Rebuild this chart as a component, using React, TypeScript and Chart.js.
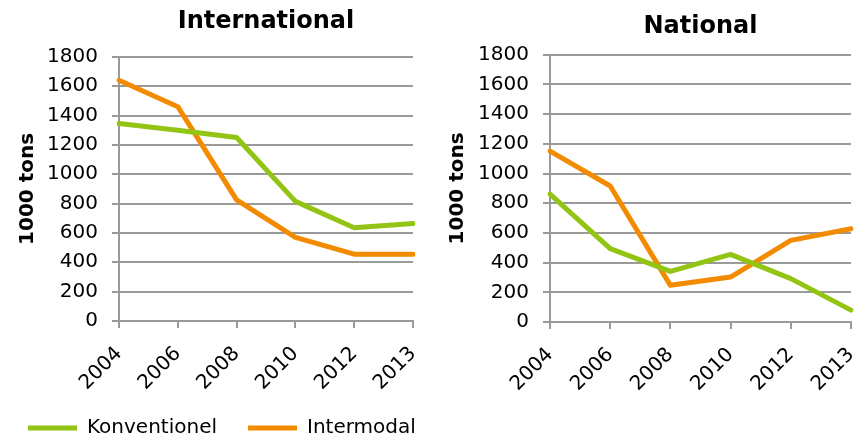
import React, { useEffect, useRef } from 'react';
import { Chart, registerables } from 'chart.js';

Chart.register(...registerables);

const years = ['2004', '2006', '2008', '2010', '2012', '2013'];
const intlKonventionel = [1345, 1300, 1250, 815, 635, 665];
const intlIntermodal = [1640, 1460, 825, 570, 455, 455];
const natKonventionel = [862, 494, 341, 456, 292, 80];
const natIntermodal = [1151, 916, 247, 303, 550, 628];
const seriesNames = ['Konventionel', 'Intermodal'];
const seriesColors = ['#92C414', '#F38B00'];
const chartTitles = ['International', 'National'];
const yAxisTitle = '1000 tons';
const yMin = 0;
const yMax = 1800;
const yStep = 200;

const FONT = "'DejaVu Sans', Verdana, sans-serif";
const GRID = '#9a9a9a';

function makeDatasets(k: number[], i: number[]) {
  return [k, i].map((d, idx) => ({
    label: seriesNames[idx],
    data: d,
    borderColor: seriesColors[idx],
    backgroundColor: seriesColors[idx],
    borderWidth: 5,
    pointRadius: 0,
    pointHoverRadius: 0,
    tension: 0,
    borderJoinStyle: 'round',
    borderCapStyle: 'round',
  }));
}

interface Opts {
  title: string;
  k: number[];
  i: number[];
  yWidth: number;
  xHeight: number;
  padRight: number;
  titleTop: number;
  titleBottom: number;
  yTitlePad: number;
}

function makeConfig(o: Opts): any {
  return {
    type: 'line',
    data: { labels: years, datasets: makeDatasets(o.k, o.i) },
    options: {
      responsive: false,
      maintainAspectRatio: false,
      animation: false,
      events: [],
      layout: { padding: { left: 0, right: o.padRight, top: 0, bottom: 0 } },
      plugins: {
        title: {
          display: true,
          text: o.title,
          fullSize: false,
          color: '#000',
          font: { family: FONT, size: 24, weight: 'bold', lineHeight: 1.2 },
          padding: { top: o.titleTop, bottom: o.titleBottom },
        },
        legend: { display: false },
        tooltip: { enabled: false },
      },
      scales: {
        x: {
          type: 'category',
          offset: false,
          afterFit: (s: any) => {
            s.height = o.xHeight;
          },
          grid: {
            display: true,
            drawOnChartArea: false,
            drawTicks: true,
            tickLength: 7,
            color: GRID,
            lineWidth: 2,
          },
          border: { display: true, color: GRID, width: 2 },
          ticks: {
            color: '#000',
            font: { family: FONT, size: 20 },
            minRotation: 45,
            maxRotation: 45,
            autoSkip: false,
            padding: 14,
          },
        },
        y: {
          min: yMin,
          max: yMax,
          afterFit: (s: any) => {
            s.width = o.yWidth;
          },
          title: {
            display: true,
            text: yAxisTitle,
            color: '#000',
            font: { family: FONT, size: 20, weight: 'bold', lineHeight: 1.2 },
            padding: { top: o.yTitlePad, bottom: 0 },
          },
          grid: {
            color: GRID,
            lineWidth: 2,
            tickLength: 7,
            drawTicks: true,
          },
          border: { display: true, color: GRID, width: 2 },
          ticks: {
            stepSize: yStep,
            autoSkip: false,
            color: '#000',
            font: { family: FONT, size: 20 },
            padding: 14,
            callback: (v: any) => String(v),
          },
        },
      },
    },
  };
}

function legendConfig(): any {
  return {
    type: 'line',
    data: { labels: [], datasets: makeDatasets([], []) },
    options: {
      responsive: false,
      maintainAspectRatio: false,
      animation: false,
      events: [],
      layout: { padding: 0 },
      plugins: {
        title: { display: false },
        tooltip: { enabled: false },
        legend: {
          display: true,
          position: 'top',
          align: 'start',
          labels: {
            usePointStyle: true,
            pointStyle: 'line',
            pointStyleWidth: 49,
            padding: 31,
            color: '#000',
            font: { family: FONT, size: 20 },
          },
        },
      },
      scales: {
        x: { display: false },
        y: { display: false },
      },
    },
  };
}

function ChartCanvas(props: { config: () => any; left: number; top: number; width: number; height: number }) {
  const ref = useRef<HTMLCanvasElement | null>(null);
  useEffect(() => {
    if (!ref.current) return;
    const chart = new Chart(ref.current, props.config());
    return () => chart.destroy();
  }, []);
  return (
    <canvas
      ref={ref}
      width={props.width}
      height={props.height}
      style={{
        position: 'absolute',
        left: props.left,
        top: props.top,
        width: props.width,
        height: props.height,
      }}
    />
  );
}

export default function App() {
  return (
    <div
      style={{
        position: 'absolute',
        left: 0,
        top: 0,
        width: 862,
        height: 440,
        overflow: 'hidden',
        background: '#fff',
      }}
    >
      <ChartCanvas
        left={-3}
        top={0}
        width={448}
        height={440}
        config={() =>
          makeConfig({
            title: chartTitles[0],
            k: intlKonventionel,
            i: intlIntermodal,
            yWidth: 122,
            xHeight: 119,
            padRight: 32,
            titleTop: 7,
            titleBottom: 21,
            yTitlePad: 19,
          })
        }
      />
      <ChartCanvas
        left={431}
        top={0}
        width={452}
        height={440}
        config={() =>
          makeConfig({
            title: chartTitles[1],
            k: natKonventionel,
            i: natIntermodal,
            yWidth: 119,
            xHeight: 118,
            padRight: 32,
            titleTop: 12,
            titleBottom: 14,
            yTitlePad: 15,
          })
        }
      />
      <ChartCanvas left={-3} top={387} width={500} height={200} config={legendConfig} />
    </div>
  );
}
